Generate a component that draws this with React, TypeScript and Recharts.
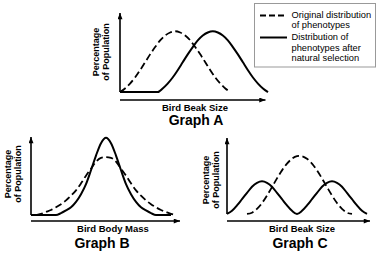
import React from 'react';
import { LineChart, Line, XAxis, YAxis, ReferenceLine } from 'recharts';

// ---------- Graph A : Bird Beak Size (directional selection) ----------
const aOriginalX = [0, 1, 2, 3, 4, 5, 6, 7, 8, 9, 10, 11, 12, 13, 14, 15, 16, 17, 18, 19, 20, 21, 22];
const aOriginalY = [0, 0.06, 0.14, 0.24, 0.36, 0.49, 0.62, 0.74, 0.85, 0.93, 0.98, 1.0, 0.98, 0.93, 0.85, 0.74, 0.62, 0.49, 0.36, 0.24, 0.14, 0.06, 0];
const aSelectedX = [0, 7.5, 8.5, 9.5, 10.5, 11.5, 12.5, 13.5, 14.5, 15.5, 16.5, 17.5, 18.5, 19.5, 20.5, 21.5, 22.5, 23.5, 24.5, 25.5, 26.5, 27.5, 28.5, 29.5];
const aSelectedY = [0, 0, 0.06, 0.14, 0.24, 0.36, 0.49, 0.62, 0.74, 0.85, 0.93, 0.98, 1.0, 0.98, 0.93, 0.85, 0.74, 0.62, 0.49, 0.36, 0.24, 0.14, 0.06, 0];

// ---------- Graph B : Bird Body Mass (stabilizing selection) ----------
const bOriginalX = [1, 2, 3, 4, 5, 6, 7, 8, 9, 10, 11, 12, 13, 14, 15, 16, 17, 18, 19, 20, 21, 22, 23, 24, 25, 26, 27, 28, 29];
const bOriginalY = [0, 0.015, 0.04, 0.065, 0.1, 0.14, 0.19, 0.25, 0.32, 0.41, 0.51, 0.6, 0.69, 0.74, 0.75, 0.74, 0.69, 0.6, 0.51, 0.41, 0.32, 0.25, 0.19, 0.14, 0.1, 0.065, 0.04, 0.015, 0];
const bSelectedX = [0, 5, 6, 7, 8, 9, 10, 11, 12, 13, 14, 15, 16, 17, 18, 19, 20, 21, 22, 23, 24, 25, 28];
const bSelectedY = [0, 0, 0.025, 0.06, 0.1, 0.17, 0.27, 0.4, 0.58, 0.77, 0.93, 1.0, 0.93, 0.77, 0.58, 0.4, 0.27, 0.17, 0.1, 0.06, 0.025, 0, 0];

// ---------- Graph C : Bird Beak Size (disruptive selection) ----------
const cOriginalX = [4, 5, 6, 7, 8, 9, 10, 11, 12, 13, 14, 14.5, 15, 16, 17, 18, 19, 20, 21, 22, 23, 24, 25];
const cOriginalY = [0, 0.016, 0.065, 0.14, 0.237, 0.345, 0.456, 0.559, 0.646, 0.708, 0.741, 0.745, 0.741, 0.708, 0.646, 0.559, 0.456, 0.345, 0.237, 0.14, 0.065, 0.016, 0];
const cSelectedX = [0, 1, 2, 3, 4, 5, 6, 7, 8, 9, 10, 11, 12, 13, 14, 15, 16, 17, 18, 19, 20, 21, 22, 23, 24, 25, 26, 27, 28];
const cSelectedY = [0, 0.04, 0.11, 0.19, 0.27, 0.35, 0.4, 0.42, 0.4, 0.35, 0.27, 0.19, 0.11, 0.04, 0, 0.04, 0.11, 0.19, 0.27, 0.35, 0.4, 0.42, 0.4, 0.35, 0.27, 0.19, 0.11, 0.04, 0];

// ---------- Text ----------
const yLabelLines = ['Percentage', 'of Population'];
const legendOriginal = ['Original distribution', 'of phenotypes'];
const legendSelected = ['Distribution of', 'phenotypes after', 'natural selection'];

const zip = (xs: number[], ys: number[]) => xs.map((x, i) => ({ x, y: ys[i] }));

const FONT = '"Liberation Sans", Arial, Helvetica, sans-serif';

const arrowShape = (p: any) => (
  <line
    x1={p.x1}
    y1={p.y1}
    x2={p.x2}
    y2={p.y2}
    stroke="#000"
    strokeWidth={1.6}
    markerEnd="url(#axisArrow)"
  />
);

type GraphProps = {
  left: number;
  top: number;
  width: number;
  height: number;
  xDomain: [number, number];
  yDomain: [number, number];
  xArrowEnd: number;
  yArrowEnd: number;
  original: { x: number; y: number }[];
  selected: { x: number; y: number }[];
};

function Graph(props: GraphProps) {
  const { left, top, width, height, xDomain, yDomain, xArrowEnd, yArrowEnd, original, selected } = props;
  return (
    <div style={{ position: 'absolute', left, top }}>
      <LineChart width={width} height={height} margin={{ top: 5, right: 5, bottom: 5, left: 5 }}>
        <XAxis type="number" dataKey="x" domain={xDomain} hide />
        <YAxis type="number" domain={yDomain} hide />
        <ReferenceLine
          segment={[{ x: 0, y: 0 }, { x: 0, y: yArrowEnd }]}
          ifOverflow="visible"
          shape={arrowShape}
        />
        <ReferenceLine
          segment={[{ x: 0, y: yDomain[0] }, { x: xArrowEnd, y: yDomain[0] }]}
          ifOverflow="visible"
          shape={arrowShape}
        />
        <Line
          data={original}
          dataKey="y"
          type="monotone"
          stroke="#000"
          strokeWidth={1.8}
          strokeDasharray="7 3.5"
          dot={false}
          activeDot={false}
          isAnimationActive={false}
        />
        <Line
          data={selected}
          dataKey="y"
          type="monotone"
          stroke="#000"
          strokeWidth={2}
          dot={false}
          activeDot={false}
          isAnimationActive={false}
        />
      </LineChart>
    </div>
  );
}

function YLabel({ x, y }: { x: number; y: number }) {
  return (
    <g fontFamily={FONT} fontWeight="bold" fontSize={9} fill="#000" textAnchor="middle">
      <text transform={`translate(${x},${y}) rotate(-90)`}>{yLabelLines[0]}</text>
      <text transform={`translate(${x + 10},${y}) rotate(-90)`}>{yLabelLines[1]}</text>
    </g>
  );
}

export default function App() {
  return (
    <div style={{ position: 'absolute', left: 0, top: 0, width: 385, height: 255, background: '#fff', overflow: 'hidden' }}>
      <Graph
        left={115}
        top={8}
        width={158}
        height={97}
        xDomain={[0, 29.5]}
        yDomain={[-0.13, 1.3]}
        xArrowEnd={29}
        yArrowEnd={1.3}
        original={zip(aOriginalX, aOriginalY)}
        selected={zip(aSelectedX, aSelectedY)}
      />
      <Graph
        left={26}
        top={132}
        width={160}
        height={94}
        xDomain={[0, 30]}
        yDomain={[-0.077, 1.01]}
        xArrowEnd={29.8}
        yArrowEnd={1.01}
        original={zip(bOriginalX, bOriginalY)}
        selected={zip(bSelectedX, bSelectedY)}
      />
      <Graph
        left={222}
        top={133}
        width={153}
        height={93}
        xDomain={[0, 28.6]}
        yDomain={[-0.09, 0.974]}
        xArrowEnd={28.6}
        yArrowEnd={0.974}
        original={zip(cOriginalX, cOriginalY)}
        selected={zip(cSelectedX, cSelectedY)}
      />
      <svg width={385} height={255} style={{ position: 'absolute', left: 0, top: 0, pointerEvents: 'none' }}>
        <defs>
          <marker
            id="axisArrow"
            viewBox="0 0 10 8"
            refX={10}
            refY={4}
            markerWidth={7}
            markerHeight={5}
            orient="auto"
            markerUnits="userSpaceOnUse"
          >
            <path d="M0,0 L10,4 L0,8 z" fill="#000" />
          </marker>
        </defs>

        {/* Graph A labels */}
        <YLabel x={99} y={52} />
        <text x={195} y={110.5} textAnchor="middle" fontFamily={FONT} fontWeight="bold" fontSize={9.5}>Bird Beak Size</text>
        <text x={196} y={124.5} textAnchor="middle" fontFamily={FONT} fontWeight="bold" fontSize={14}>Graph A</text>

        {/* Graph B labels */}
        <YLabel x={11} y={174} />
        <text x={113} y={232} textAnchor="middle" fontFamily={FONT} fontWeight="bold" fontSize={9.5}>Bird Body Mass</text>
        <text x={102} y={248} textAnchor="middle" fontFamily={FONT} fontWeight="bold" fontSize={14}>Graph B</text>

        {/* Graph C labels */}
        <YLabel x={208.5} y={180} />
        <text x={302} y={232} textAnchor="middle" fontFamily={FONT} fontWeight="bold" fontSize={9.5}>Bird Beak Size</text>
        <text x={300} y={248} textAnchor="middle" fontFamily={FONT} fontWeight="bold" fontSize={14}>Graph C</text>

        {/* Legend */}
        <rect x={254.5} y={3.5} width={121} height={63.5} fill="#fff" stroke="#999" strokeWidth={1} />
        <line x1={260} y1={15.5} x2={287} y2={15.5} stroke="#000" strokeWidth={1.8} strokeDasharray="6 3" />
        <line x1={260} y1={37.5} x2={287} y2={37.5} stroke="#000" strokeWidth={2} />
        <g fontFamily={FONT} fontSize={9.3} fill="#000">
          <text x={291.5} y={17.5}>{legendOriginal[0]}</text>
          <text x={291.5} y={27.5}>{legendOriginal[1]}</text>
          <text x={291.5} y={40}>{legendSelected[0]}</text>
          <text x={291.5} y={50.5}>{legendSelected[1]}</text>
          <text x={291.5} y={61}>{legendSelected[2]}</text>
        </g>
      </svg>
    </div>
  );
}
